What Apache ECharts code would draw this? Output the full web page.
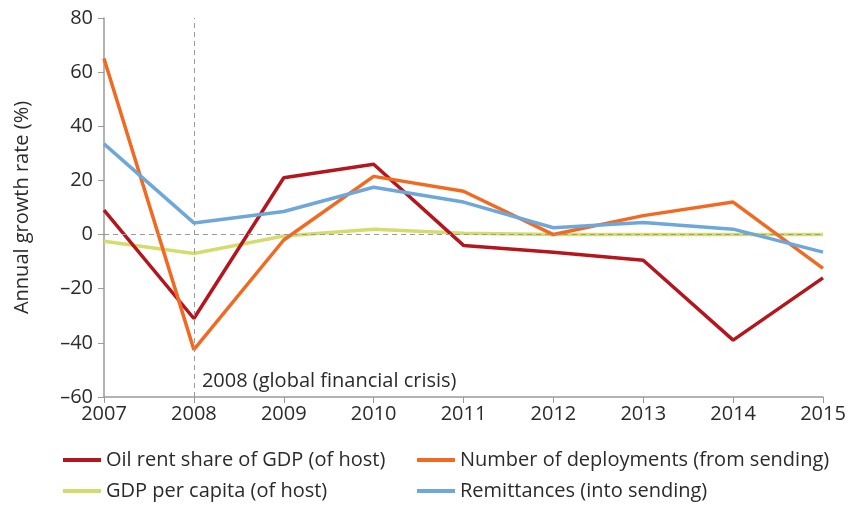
<!DOCTYPE html>
<html>
<head>
<meta charset="utf-8">
<script src="https://cdn.jsdelivr.net/npm/echarts@6/dist/echarts.min.js"></script>
<style>
  html, body { margin: 0; padding: 0; background: #fff; }
  #chart { width: 856px; height: 506px; }
</style>
</head>
<body>
<div id="chart"></div>
<script>
const years = ['2007', '2008', '2009', '2010', '2011', '2012', '2013', '2014', '2015']
const oilRent = [9, -31, 21, 26, -4, -6.5, -9.5, -39, -16]
const deployments = [65, -42.5, -2, 21.5, 16, 0, 7, 12, -12.5]
const gdpPerCapita = [-2.5, -7, -0.5, 2, 0.5, 0, 0, 0, 0]
const remittances = [33.5, 4.3, 8.5, 17.5, 12, 2.5, 4.5, 2, -6.5]
const names = [
  'Oil rent share of GDP (of host)',
  'Number of deployments (from sending)',
  'GDP per capita (of host)',
  'Remittances (into sending)',
]
const colors = ['#B5161E', '#F26A22', '#D5DC6E', '#6DA7DB']

const font = '"Open Sans", "Noto Sans", sans-serif'
const txt = '#2b2b2b'
const myChart = echarts.init(document.getElementById('chart'))

const line = (name, data, color, extra) =>
  Object.assign({
    name: name,
    type: 'line',
    data: data,
    symbol: 'none',
    lineStyle: { width: 3.5, color: color },
    itemStyle: { color: color },
  }, extra || {})

// one legend per item so the two columns line up like the original
const legendAt = (name, left, top) => ({
  data: [name],
  left: left,
  top: top,
  padding: 0,
  icon: 'rect',
  itemWidth: 38,
  itemHeight: 4,
  itemGap: 0,
  textStyle: { fontFamily: font, fontSize: 20, color: txt },
})

myChart.setOption({
  animation: false,
  grid: { left: 104, right: 33, top: 18, bottom: 109 },
  legend: [
    legendAt(names[0], 63, 450),
    legendAt(names[1], 417, 450),
    legendAt(names[2], 63, 481),
    legendAt(names[3], 417, 481),
  ],
  xAxis: {
    type: 'category',
    data: years,
    boundaryGap: false,
    axisLine: { onZero: false, lineStyle: { color: '#9a9a9a', width: 1.5 } },
    axisTick: { show: true, length: 6, lineStyle: { color: '#9a9a9a' } },
    axisLabel: { fontFamily: font, fontSize: 20, color: txt, margin: 7 },
  },
  yAxis: {
    type: 'value',
    min: -60,
    max: 80,
    interval: 20,
    name: 'Annual growth rate (%)',
    nameLocation: 'middle',
    nameGap: 72,
    nameTextStyle: { fontFamily: font, fontSize: 20, color: txt },
    axisLine: { show: true, lineStyle: { color: '#9a9a9a', width: 1.5 } },
    axisTick: { show: true, length: 6, lineStyle: { color: '#9a9a9a' } },
    axisLabel: {
      fontFamily: font,
      fontSize: 20,
      color: txt,
      margin: 11,
      formatter: (v) => String(v).replace('-', '\u2013'),
    },
    splitLine: { show: false },
  },
  series: [
    line(names[0], oilRent, colors[0], {
      markLine: {
        silent: true,
        symbol: 'none',
        label: { show: false },
        lineStyle: { color: '#9a9a9a', type: [5, 4], width: 1 },
        data: [{ xAxis: '2008' }, { yAxis: 0 }],
      },
      markPoint: {
        silent: true,
        symbol: 'circle',
        symbolSize: 0,
        label: {
          show: true,
          position: 'right',
          distance: 8,
          formatter: '2008 (global financial crisis)',
          fontFamily: font,
          fontSize: 20,
          color: txt,
        },
        data: [{ coord: ['2008', -54.3] }],
      },
    }),
    line(names[1], deployments, colors[1]),
    line(names[2], gdpPerCapita, colors[2], { z: 1 }),
    line(names[3], remittances, colors[3]),
  ],
})
</script>
</body>
</html>
